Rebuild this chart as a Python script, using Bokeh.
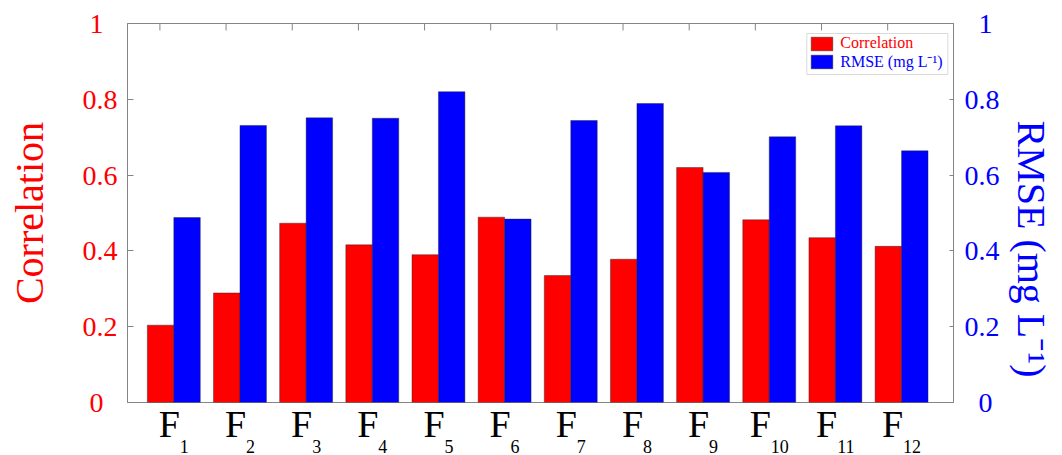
from bokeh.embed import file_html
from bokeh.models import (BoxAnnotation, ColumnDataSource, FixedTicker, Legend,
                          LegendItem, LinearAxis, Range1d, Title)
from bokeh.plotting import figure
from bokeh.resources import INLINE
from bokeh.transform import dodge

# ---- data -------------------------------------------------------------
feature_index = ["1", "2", "3", "4", "5", "6", "7", "8", "9", "10", "11", "12"]
correlation = [0.204, 0.289, 0.473, 0.416, 0.390, 0.489, 0.335, 0.378, 0.620, 0.482, 0.435, 0.412]
rmse = [0.488, 0.731, 0.751, 0.750, 0.820, 0.484, 0.744, 0.789, 0.607, 0.701, 0.730, 0.664]
y_ticks = [0, 0.2, 0.4, 0.6, 0.8, 1]
y_tick_labels = ["0", "0.2", "0.4", "0.6", "0.8", "1"]

# ---- style ------------------------------------------------------------
RED = "#ff0000"
BLUE = "#0000ff"
AXIS_GREY = "#858585"
FONT = "Liberation Serif"
EN = "\u2002"  # en space, pads single-digit tick labels so they sit centred

W, H = 1062, 455
BORDER_L, BORDER_R, BORDER_T, BORDER_B = 127, 105, 23, 52
X_LO, X_HI = 0.3, 12.785

F_SIZE = 38      # px, main letter of the category labels
SUB_SIZE = 18    # px, subscript digits
F_ADV = 0.556 * F_SIZE
DIGIT_ADV = 0.5 * SUB_SIZE
TICK_SIZE = 28
TITLE_SIZE = 40
TOP_TICK_LEN = 7  # px

xpos = list(range(1, len(feature_index) + 1))
src = ColumnDataSource(data=dict(x=xpos, corr=correlation, rmse=rmse))

p = figure(
    width=W, height=H,
    x_range=Range1d(X_LO, X_HI), y_range=Range1d(0, 1),
    x_axis_location=None,
    output_backend="svg", toolbar_location=None,
    min_border_left=BORDER_L, min_border_right=BORDER_R,
    min_border_top=BORDER_T, min_border_bottom=BORDER_B,
    background_fill_color="white", border_fill_color="white",
)
p.extra_y_ranges = {"rmse": Range1d(0, 1)}
p.grid.visible = False
p.outline_line_color = AXIS_GREY
p.outline_line_width = 1


def pad(label, left_side):
    if len(label) == 1:
        return label + EN if left_side else EN + label
    return label


# left axis (Correlation)
la = p.yaxis[0]
la.ticker = FixedTicker(ticks=y_ticks)
la.major_label_overrides = {t: pad(s, True) for t, s in zip(y_ticks, y_tick_labels)}
la.major_label_text_font = FONT
la.major_label_text_font_size = f"{TICK_SIZE}px"
la.major_label_text_color = RED
la.major_label_standoff = 10
la.major_tick_in = 6
la.major_tick_out = 0
la.minor_tick_line_color = None
la.axis_line_color = AXIS_GREY
la.major_tick_line_color = AXIS_GREY
la.axis_label = "Correlation"
la.axis_label_text_font = FONT
la.axis_label_text_font_size = f"{TITLE_SIZE}px"
la.axis_label_text_font_style = "normal"
la.axis_label_text_color = RED
la.axis_label_standoff = 28

# right axis (RMSE)
ra = LinearAxis(y_range_name="rmse", ticker=FixedTicker(ticks=y_ticks),
                major_label_overrides={t: pad(s, False) for t, s in zip(y_ticks, y_tick_labels)},
                major_label_text_font=FONT, major_label_text_font_size=f"{TICK_SIZE}px",
                major_label_text_color=BLUE, major_label_standoff=11,
                major_tick_in=4, major_tick_out=0,
                minor_tick_line_color=None, axis_line_color=AXIS_GREY,
                major_tick_line_color=AXIS_GREY)
p.add_layout(ra, "right")
p.add_layout(Title(text="RMSE (mg L\u207b\u00b9)", align="left", offset=97, standoff=13,
                   text_font=FONT, text_font_size=f"{TITLE_SIZE}px",
                   text_font_style="normal", text_color=BLUE), "right")

# ---- category labels: "F" row and subscript row -------------------------
# each label "F<n>" is centred on its bar pair; the letter and the index are
# placed on two stacked axes so the index can sit lower and smaller
px_per_unit = (W - BORDER_L - BORDER_R) / (X_HI - X_LO)
px_per_y = H - BORDER_T - BORDER_B
f_ticks, s_ticks = [], []
for x, s in zip(xpos, feature_index):
    total = F_ADV + DIGIT_ADV * len(s)
    f_ticks.append(x + (-total / 2 + F_ADV / 2) / px_per_unit)
    s_ticks.append(x + (-total / 2 + F_ADV + DIGIT_ADV * len(s) / 2) / px_per_unit)

fa = LinearAxis(ticker=FixedTicker(ticks=f_ticks),
                major_label_overrides={t: "F" for t in f_ticks},
                major_label_text_font=FONT, major_label_text_font_size=f"{F_SIZE}px",
                major_label_text_color="black", major_label_standoff=0,
                major_tick_in=0, major_tick_out=0, major_tick_line_color=None,
                minor_tick_line_color=None, axis_line_color=None)
p.add_layout(fa, "below")
sa = LinearAxis(ticker=FixedTicker(ticks=s_ticks),
                major_label_overrides={t: s for t, s in zip(s_ticks, feature_index)},
                major_label_text_font=FONT, major_label_text_font_size=f"{SUB_SIZE}px",
                major_label_text_color="black", major_label_standoff=-8,
                major_tick_in=0, major_tick_out=0, major_tick_line_color=None,
                minor_tick_line_color=None, axis_line_color=None)
p.add_layout(sa, "below")

# ---- bars -------------------------------------------------------------
r_corr = p.vbar(x=dodge("x", -0.2), top="corr", width=0.4, source=src,
                fill_color=RED, line_color="#222222", line_width=0.6, line_alpha=0.7)
r_rmse = p.vbar(x=dodge("x", 0.2), top="rmse", width=0.4, source=src, y_range_name="rmse",
                fill_color=BLUE, line_color="#222222", line_width=0.6, line_alpha=0.7)

# short inward ticks hanging from the top edge of the box
top_ticks = [x - 0.21 for x in xpos]
p.segment(x0=top_ticks, x1=top_ticks, y0=[1] * len(top_ticks),
          y1=[1 - TOP_TICK_LEN / px_per_y] * len(top_ticks),
          line_color=AXIS_GREY, line_width=1)

# ---- legend -----------------------------------------------------------
p.add_layout(BoxAnnotation(left=679.3, right=820.3, bottom=328, top=369,
                           left_units="screen", right_units="screen",
                           bottom_units="screen", top_units="screen",
                           fill_color="white", fill_alpha=1.0,
                           line_color=AXIS_GREY, line_width=1))


def make_legend(label, renderer, color, loc):
    return Legend(items=[LegendItem(label=label, renderers=[renderer])], location=loc,
                  orientation="vertical", margin=0, padding=2, spacing=0,
                  glyph_width=27, glyph_height=17, label_standoff=5,
                  label_height=17, label_text_font=FONT, label_text_font_size="16px",
                  label_text_color=color, label_text_baseline="middle",
                  border_line_alpha=0, background_fill_alpha=0)


p.add_layout(make_legend("Correlation", r_corr, RED, (679.3, 348)))
p.add_layout(make_legend("RMSE (mg L\u207b\u00b9)", r_rmse, BLUE, (679.3, 328)))

open("out.html", "w").write(file_html(p, INLINE))
